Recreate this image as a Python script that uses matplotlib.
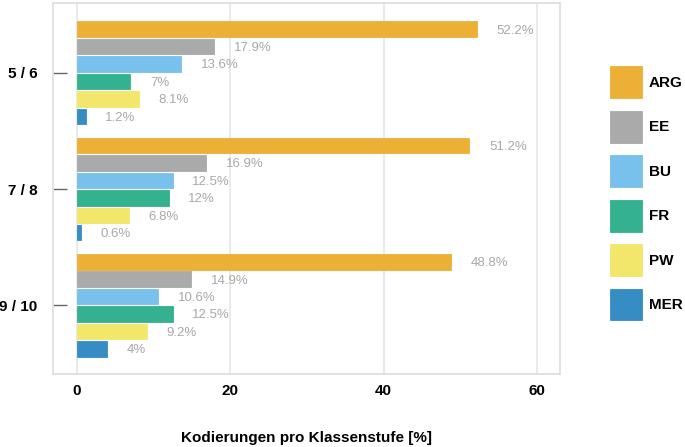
import matplotlib
matplotlib.use("Agg")
import matplotlib.pyplot as plt
import numpy as np

groups = ["5 / 6", "7 / 8", "9 / 10"]
series = ["ARG", "EE", "BU", "FR", "PW", "MER"]
ARG = [52.2, 51.2, 48.8]
EE = [17.9, 16.9, 14.9]
BU = [13.6, 12.5, 10.6]
FR = [7.0, 12.0, 12.5]
PW = [8.1, 6.8, 9.2]
MER = [1.2, 0.6, 4.0]
values = [ARG, EE, BU, FR, PW, MER]
colors = ["#EBB035", "#AAAAAA", "#77C1EC", "#34B18F", "#F2E76A", "#358DC4"]
xticks = [0, 20, 40, 60]
xlabel = "Kodierungen pro Klassenstufe [%]"

plt.rcParams['font.family'] = ['Liberation Sans', 'DejaVu Sans']

fig = plt.figure(figsize=(6.85, 4.47), dpi=100)
ax = fig.add_axes([0.0774, 0.1633, 0.8175 - 0.0774, 0.9933 - 0.1633])

slot = 0.15
h = 0.133
ypos = np.arange(len(groups))
handles = []
for i, (name, vals, c) in enumerate(zip(series, values, colors)):
    y = ypos - 0.375 + i * slot
    b = ax.barh(y, vals, height=h, color=c, edgecolor=c, linewidth=0.6, zorder=2, label=name)
    handles.append(b)
    for yy, v in zip(y, vals):
        ax.annotate(f"{v:g}%", xy=(v, yy), xytext=(14, -1), textcoords="offset points",
                    ha="left", va="center", fontsize=9.5, color="#A8A8A8")

ax.set_ylim(2.59, -0.6)
ax.set_xlim(-3.1, 63.0)
ax.set_yticks(ypos)
ax.set_yticklabels(groups, fontsize=11, fontweight="bold")
ax.set_xticks(xticks)
ax.set_xticklabels([str(t) for t in xticks], fontsize=11, fontweight="bold")
ax.tick_params(axis="y", direction="in", length=10, width=1, color="#666666", pad=11)
ax.tick_params(axis="x", length=0, pad=7)
ax.grid(axis="x", color="#E6E6E6", linewidth=1.2, zorder=0)
ax.set_axisbelow(True)
for s in ax.spines.values():
    s.set_color("#DDDDDD")
    s.set_linewidth(1.2)
ax.set_xlabel(xlabel, fontsize=11, fontweight="bold", labelpad=24)

leg = fig.legend(handles=handles, labels=series, loc="upper left",
                 bbox_to_anchor=(0.890, 0.852), frameon=False,
                 handlelength=2.1, handleheight=2.84, labelspacing=0.82,
                 handletextpad=0.45, borderpad=0, borderaxespad=0,
                 prop={"size": 11, "weight": "bold"})

fig.savefig("out.png", dpi=100)
